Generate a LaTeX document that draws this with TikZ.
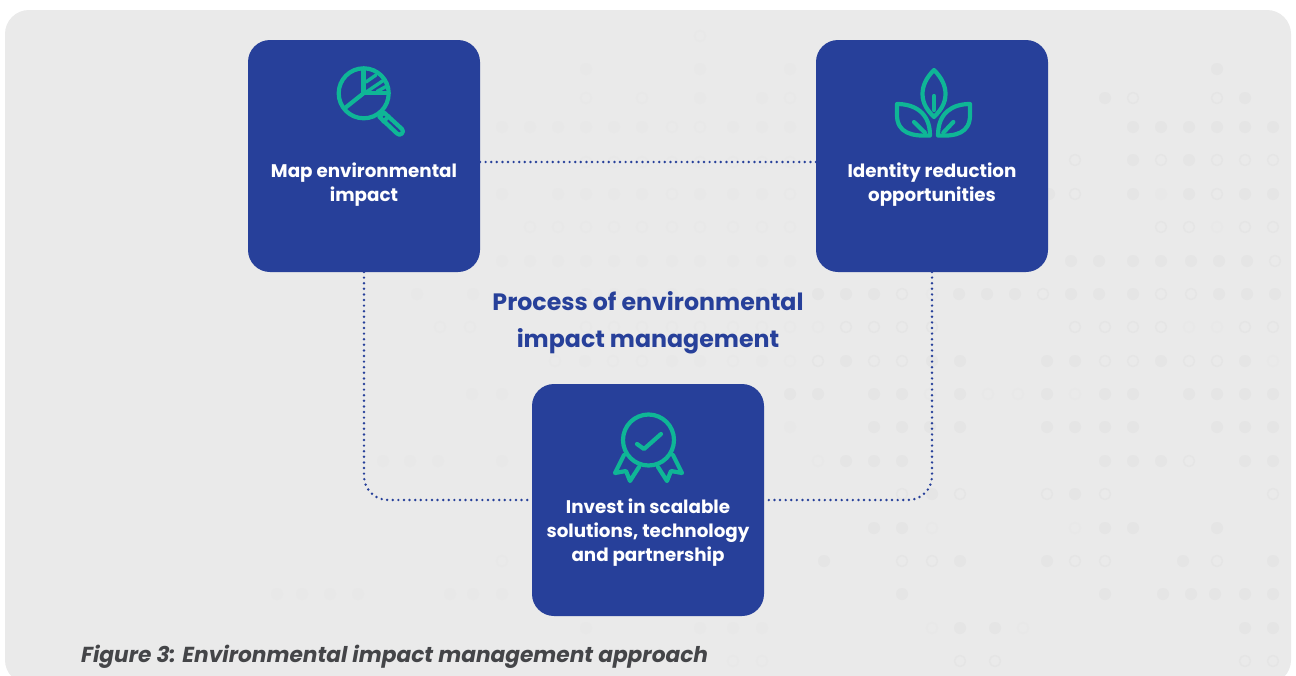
\documentclass[tikz,border=0pt]{standalone}
\usepackage{fontspec}
\setmainfont{Poppins}
\definecolor{panel}{HTML}{EAEAEA}
\definecolor{dotdark}{HTML}{E5E5E5}
\definecolor{dotfaint}{HTML}{E8E8E8}
\definecolor{navy}{HTML}{27409A}
\definecolor{teal}{HTML}{0FB696}
\definecolor{captiongrey}{HTML}{444548}
\tikzset{
  boxnode/.style={fill=navy,rounded corners=22pt,minimum width=232pt,minimum height=232pt,inner sep=0pt,outer sep=0pt},
  boxtext/.style={text=white,font=\fontsize{18.3}{24}\selectfont\bfseries,align=center,inner sep=0pt},
  titletext/.style={text=navy,font=\fontsize{23.7}{37}\selectfont\bfseries,align=center,inner sep=0pt},
  captiontext/.style={text=captiongrey,font=\fontsize{21.7}{24}\selectfont\bfseries\itshape,anchor=west,inner sep=0pt},
  dotline/.style={draw=navy,line width=2.7pt,line cap=round,dash pattern=on 0pt off 5.6pt},
  icon/.style={draw=teal,line width=4.2pt,line cap=round,line join=round},
}
\newcommand{\dotsfilled}[2]{\foreach \px in {#2}{\fill[dotdark] (\px,#1) circle[radius=6pt];}}
\newcommand{\dotsopen}[2]{\foreach \px in {#2}{\draw[dotdark,line width=1.5pt] (\px,#1) circle[radius=5.5pt];}}
\newcommand{\dotsfaint}[2]{\foreach \px in {#2}{\fill[dotfaint] (\px,#1) circle[radius=6pt];}}
\newcommand{\dotsfaintopen}[2]{\foreach \px in {#2}{\draw[dotfaint,line width=1.5pt] (\px,#1) circle[radius=5.5pt];}}
\begin{document}
\begin{tikzpicture}[x=1pt,y=-1pt]
\useasboundingbox (0,0) rectangle (1296,675);
\fill[white] (0,0) rectangle (1296,675);
\begin{scope}
\clip (0,0) rectangle (1296,675);
\fill[panel,rounded corners=24pt] (5,10) rectangle (1291,684);
\end{scope}
% dot field
\dotsfaintopen{36}{700}
\dotsfaint{69}{586,700,790}
\dotsfilled{69}{1217}
\dotsfaintopen{98}{586,642,790}
\dotsfaint{98}{700,762}
\dotsfilled{98}{1105,1245}
\dotsopen{98}{1133,1217}
\dotsfaint{127}{502,530,558,586,614,642,733,762,790}
\dotsfaintopen{127}{672,700}
\dotsfilled{127}{1133,1161,1189,1217,1245,1273}
\dotsfaintopen{162}{586,614,642,672,700,733,762,790}
\dotsopen{160}{1075,1161,1217,1245,1273}
\dotsfilled{160}{1133,1189}
\dotsfaint{194}{502,558,586,614,642,700,733,762}
\dotsfaintopen{194}{672,790}
\dotsfilled{194}{1049,1133,1189,1245,1273}
\dotsopen{194}{1075,1217}
\dotsfaint{194}{1161}
\dotsfaintopen{227}{530,558,586,614,642,672,700,733,762,790}
\dotsopen{227}{1161,1189,1245,1273}
\dotsfaintopen{227}{1217}
\dotsfaint{261}{502,530,558,586,614,642,672,700,733,762,790}
\dotsfilled{261}{1071,1099,1133,1161,1191,1219,1247}
\dotsopen{261}{1275}
\dotsfaint{294}{417,473,586,614,642,672,700,733,762,790}
\dotsfilled{294}{818,846,874,959,987,1015,1071,1099,1133,1219,1247,1275}
\dotsopen{294}{902,1043,1161,1191}
\dotsfaintopen{294}{932}
\dotsfaintopen{327}{440,470,586,614,642,672,700,733,762,790}
\dotsopen{327}{846,874,902,932,1075,1105,1133,1161,1245,1273}
\dotsfaintopen{327}{818,1189,1217}
\dotsfaintopen{361}{555,613,642,733,790}
\dotsfaint{361}{585,672,700,762}
\dotsopen{361}{818,874,902,1105,1133,1189,1217}
\dotsfilled{361}{846,932,960,1047,1075,1161,1245}
\dotsfaintopen{361}{1273}
\dotsfaint{394}{472,502}
\dotsfilled{394}{790,818,874,902,960,1047,1105,1133,1189,1217,1245,1273}
\dotsfaintopen{394}{930,988,1018,1075}
\dotsfaint{427}{790}
\dotsfilled{427}{874,902,930,960,1047,1075,1105,1133,1217,1245,1273}
\dotsfaint{461}{383,410,438,502}
\dotsfaintopen{461}{818}
\dotsfilled{461}{846,874,902,1105,1133,1161,1245,1273}
\dotsopen{461}{1189}
\dotsopen{494}{902,960,1047,1105,1273}
\dotsfilled{494}{932,1075}
\dotsfilled{528}{874,902,1105,1133,1217}
\dotsfaintopen{528}{932,1075}
\dotsfaintopen{561}{502}
\dotsfilled{561}{824,960,1047,1183,1273}
\dotsopen{561}{902,932,1075,1105,1217}
\dotsfaint{594}{277,302,330,358,450,473,502}
\dotsfilled{594}{902,1105,1163,1191,1215,1245,1273}
\dotsfaint{628}{586,700,733,762}
\dotsfaintopen{628}{932,1023}
\dotsfilled{628}{960,995,1245,1273}
\dotsfaintopen{661}{733,762}
\dotsopen{661}{960,995,1245,1273}
% boxes
\node[boxnode] (map) at (364,156) {};
\node[boxnode] (identify) at (932,156) {};
\node[boxnode] (invest) at (648,500) {};
% connectors
\draw[dotline] (map.east |- 0,162) -- (identify.west |- 0,162);
\draw[dotline,rounded corners=24pt] (map.south) -- (map.south |- invest.west) -- (invest.west);
\draw[dotline,rounded corners=24pt] (identify.south) -- (identify.south |- invest.east) -- (invest.east);
% labels
\node[boxtext] (maplabel) at (364,184.5) {Map environmental\\impact};
\node[boxtext] (identifylabel) at (932,184.5) {Identity reduction\\opportunities};
\node[boxtext] (investlabel) at (648,533) {Invest in scalable\\solutions, technology\\and partnership};
\node[titletext] (title) at (648,323) {Process of environmental\\impact management};
\node[captiontext] (caption) at (81,657) {Figure 3: Environmental impact management approach};
% magnifier icon
\draw[icon] (363.7,93.3) circle[radius=25pt];
\draw[icon] (363.5,69) -- (363.5,93.3) -- (388.5,93.3);
\draw[icon] (363.5,93.3) -- (345,108);
\draw[icon,line width=3.4pt] (366,82) -- (376,75);
\draw[icon,line width=3.4pt] (367,91.5) -- (384,80);
\draw[icon,line width=3.4pt] (377,91.5) -- (386,86.5);
\draw[icon] (379.5,117) -- (384,112.5) -- (402,129) .. controls (405,132) and (400,137) .. (397,133.5) -- cycle;
\draw[icon] (383.5,121.5) -- (388.5,116.5);
% leaves icon
\draw[icon] (934,70) .. controls (926,78) and (922.5,86) .. (922.5,94) .. controls (922.5,104) and (928,111) .. (934,117) .. controls (940,111) and (945.5,104) .. (945.5,94) .. controls (945.5,86) and (942,78) .. (934,70) -- cycle;
\draw[icon] (934,96) -- (934,110);
\draw[icon] (897,104) .. controls (915,104) and (930,113) .. (930,135.5) .. controls (912,136.5) and (897,133) .. (897,115) -- cycle;
\draw[icon] (914,122) -- (925,132.7);
\draw[icon] (970,104) .. controls (952,104) and (938,113) .. (938,135.5) .. controls (956,136.5) and (970,133) .. (970,115) -- cycle;
\draw[icon] (953.3,122) -- (943.3,132.7);
% award icon
\draw[icon] (648.5,440) circle[radius=25.5pt];
\draw[icon] (637,444) -- (644,449) -- (661,434);
\draw[icon] (624,455) -- (615,473) -- (626,471) -- (630,481) -- (639,467);
\draw[icon] (673,455) -- (682,473) -- (671,471) -- (667,481) -- (658,467);
\end{tikzpicture}
\end{document}
